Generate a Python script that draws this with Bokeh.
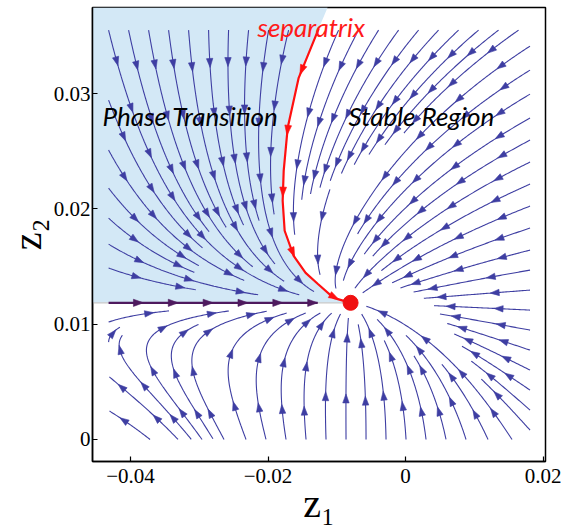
import math
import numpy as np
from bokeh.plotting import figure
from bokeh.models import Range1d, FixedTicker, Label
from bokeh.embed import file_html
from bokeh.resources import INLINE

# ---------------- values ----------------
x_ticks = [-0.04, -0.02, 0.0, 0.02]
x_tick_labels = ["\u22120.04", "\u22120.02", "0", "0.02"]
y_ticks = [0.0, 0.01, 0.02, 0.03]
y_tick_labels = ["0", "0.01", "0.02", "0.03"]
x_title = "z\u2081"
y_title = "z\u2082"

x_view = [-0.04554, 0.02035]
y_view = [-0.00191, 0.03746]

stream_z1 = [-0.0432, 0.0181]   # extent of the stream field
stream_z2 = [0.0, 0.0355]

fixed_z1 = -0.0080              # the red fixed point
fixed_z2 = 0.01185

separatrix_z1 = [-0.01265, -0.01555, -0.01715, -0.01773, -0.01788, -0.01759,
                 -0.01628, -0.01454, -0.01279, -0.01047, -0.00800]
separatrix_z2 = [0.03561, 0.03136, 0.02703, 0.02330, 0.02070, 0.01810,
                 0.01593, 0.01445, 0.01350, 0.01228, 0.01185]
region_top_z1 = -0.01134        # where the shaded region meets the top of the frame

attractor_z1 = [-0.0432, -0.01279]   # purple flow line along z2 = fixed_z2
attractor_arrows = 6

# flow-field shape constants (in units of ZS1, ZS2 around the fixed point)
ZS1, ZS2 = 0.01453, 0.00867
A_LIN, D_QUAD = 0.689, 0.1085
C0, C1, C2 = 0.5, 0.2, 0.02
H_K, H_P0 = 0.39, 0.1

# ---------------- figure ----------------
FW, FH = 453, 454
p = figure(width=572, height=530, frame_width=FW, frame_height=FH,
           x_range=Range1d(*x_view), y_range=Range1d(*y_view),
           output_backend="svg", toolbar_location=None,
           min_border_left=92, min_border_right=27, min_border_top=7, min_border_bottom=69)
p.grid.visible = False
p.background_fill_color = "white"
p.border_fill_color = "white"
p.outline_line_color = "black"
p.outline_line_width = 1.5

for ax, ticks, labels in ((p.xaxis, x_ticks, x_tick_labels), (p.yaxis, y_ticks, y_tick_labels)):
    ax.ticker = FixedTicker(ticks=ticks)
    ax.major_label_overrides = {t: l for t, l in zip(ticks, labels)}
    ax.major_tick_in = 5
    ax.major_tick_out = 0
    ax.minor_tick_line_color = None
    ax.axis_line_width = 1.5
    ax.major_tick_line_width = 1.2
    ax.major_label_text_font = "Liberation Serif"
    ax.major_label_text_font_size = "21px"
    ax.major_label_text_color = "black"
    ax.axis_label_text_font = "Liberation Serif"
    ax.axis_label_text_font_size = "40px"
    ax.axis_label_text_font_style = "normal"
    ax.axis_label_text_color = "black"
p.xaxis.axis_label = x_title
p.yaxis.axis_label = y_title
p.xaxis.major_label_standoff = 7
p.yaxis.major_label_standoff = 2
p.xaxis.axis_label_standoff = -5
p.yaxis.axis_label_standoff = 1

sx = FW / (x_view[1] - x_view[0])
sy = FH / (y_view[1] - y_view[0])


def to_px(z1, z2):
    return (z1 - x_view[0]) * sx, (z2 - y_view[0]) * sy


def to_data(px, py):
    return x_view[0] + px / sx, y_view[0] + py / sy


QB = fixed_z2 / ZS2


def velocity(px, py):
    z1, z2 = to_data(px, py)
    P = (z1 - fixed_z1) / ZS1
    Q = (z2 - fixed_z2) / ZS2
    lp = -A_LIN * P - D_QUAD * P * P
    if Q >= 0:
        dP = lp - Q * (C0 + C1 * P + C2 * P * P)
    else:
        w = min(1.0, -Q / QB)
        dP = lp + w * (-H_K * (P - H_P0) ** 2 - lp)
    dQ = -Q
    vx = dP * ZS1 * sx
    vy = dQ * ZS2 * sy
    n = math.hypot(vx, vy)
    if n < 1e-12:
        return None
    return vx / n, vy / n


# ---------------- evenly spaced streamlines ----------------
DSEP, DTEST, STEP, R_FIX = 19.0, 8.0, 1.5, 15.0
bx0, by0 = to_px(stream_z1[0], stream_z2[0])
bx1, by1 = to_px(stream_z1[1], stream_z2[1])
fx, fy = to_px(fixed_z1, fixed_z2)
CELL = DTEST
grid = {}


def add_pt(x, y):
    grid.setdefault((int(x // CELL), int(y // CELL)), []).append((x, y))


def near(x, y, r):
    cx, cy = int(x // CELL), int(y // CELL)
    k = int(math.ceil(r / CELL))
    r2 = r * r
    for i in range(cx - k, cx + k + 1):
        for j in range(cy - k, cy + k + 1):
            for (qx, qy) in grid.get((i, j), ()):
                if (qx - x) ** 2 + (qy - y) ** 2 < r2:
                    return True
    return False


def inside(x, y):
    return bx0 - 0.01 <= x <= bx1 + 0.01 and by0 - 0.01 <= y <= by1 + 0.01


def densify(xs, ys, step=1.0):
    out = []
    for i in range(len(xs) - 1):
        d = math.hypot(xs[i + 1] - xs[i], ys[i + 1] - ys[i])
        n = max(1, int(d / step))
        for k in range(n):
            t = k / n
            out.append((xs[i] + t * (xs[i + 1] - xs[i]), ys[i] + t * (ys[i + 1] - ys[i])))
    out.append((xs[-1], ys[-1]))
    return out


def trace(x, y, sign):
    pts = []
    prev = None
    for _ in range(2000):
        v = velocity(x, y)
        if v is None:
            break
        mx, my = x + 0.5 * STEP * sign * v[0], y + 0.5 * STEP * sign * v[1]
        v2 = velocity(mx, my)
        if v2 is None:
            break
        if prev is not None and v2[0] * prev[0] + v2[1] * prev[1] < 0.3:
            break
        nx, ny = x + STEP * sign * v2[0], y + STEP * sign * v2[1]
        if not inside(nx, ny):
            break
        if math.hypot(nx - fx, ny - fy) < R_FIX:
            break
        if near(nx, ny, DTEST):
            break
        pts.append((nx, ny))
        prev = v2
        x, y = nx, ny
    return pts


# preload the drawn curves so that streamlines keep clear of them
sep_px = [to_px(a, b) for a, b in zip(separatrix_z1, separatrix_z2)]
sep_dense = densify([q[0] for q in sep_px], [q[1] for q in sep_px])
att0 = to_px(attractor_z1[0], fixed_z2)
att_dense = densify([att0[0], fx], [att0[1], fy])
for (x, y) in sep_dense + att_dense:
    add_pt(x, y)

seeds = []
e = 2.0
for x in np.arange(bx0, bx1 + 0.1, e):
    seeds.append((x, by1, 1))
for y in np.arange(by1, by0 - 0.1, -e):
    seeds.append((bx1, y, 1))
for x in np.arange(bx1, bx0 - 0.1, -e):
    seeds.append((x, by0, 1))
for y in np.arange(by1, by0 - 0.1, -e):
    seeds.append((bx0, y, 1))
for y in np.arange(by0 + 4, by1, 5.0):
    for x in np.arange(bx0 + 4, bx1, 5.0):
        seeds.append((x, y, 0))

lines = []
for (x, y, kind) in seeds:
    if near(x, y, DSEP) or math.hypot(x - fx, y - fy) < R_FIX + 4:
        continue
    fwd = trace(x, y, 1.0)
    bwd = trace(x, y, -1.0) if kind == 0 else []
    pts = bwd[::-1] + [(x, y)] + fwd
    if len(pts) < 2:
        continue
    length = sum(math.hypot(pts[i + 1][0] - pts[i][0], pts[i + 1][1] - pts[i][1]) for i in range(len(pts) - 1))
    if length < 12:
        continue
    for q in pts:
        add_pt(*q)
    lines.append(pts)


def arrow_polys(pts, spacing, frac, alen=9.0, ahw=3.2, n_fixed=None):
    xs = np.array([q[0] for q in pts])
    ys = np.array([q[1] for q in pts])
    cum = np.concatenate([[0.0], np.cumsum(np.hypot(np.diff(xs), np.diff(ys)))])
    total = cum[-1]
    n = n_fixed if n_fixed else max(1, int(round(total / spacing)))
    stepl = total / n
    out = []
    for k in range(n):
        s = min(total, max(alen, (k + frac) * stepl))
        tx, ty = np.interp(s, cum, xs), np.interp(s, cum, ys)
        bx, by = np.interp(s - alen, cum, xs), np.interp(s - alen, cum, ys)
        dx, dy = tx - bx, ty - by
        d = math.hypot(dx, dy) or 1.0
        dx, dy = dx / d, dy / d
        cx, cy = tx - alen * dx, ty - alen * dy
        poly = [(tx, ty), (cx - ahw * dy, cy + ahw * dx), (cx + ahw * dy, cy - ahw * dx)]
        out.append(([to_data(*q)[0] for q in poly], [to_data(*q)[1] for q in poly]))
    return out


# ---------------- shaded region ----------------
reg_x = [x_view[0], x_view[0], region_top_z1] + separatrix_z1 + [fixed_z1]
reg_y = [fixed_z2, y_view[1], y_view[1]] + separatrix_z2 + [fixed_z2]
p.patch(reg_x, reg_y, fill_color="#D3E8F6", line_color=None)
p.line([x_view[0], fixed_z1], [fixed_z2, fixed_z2], line_color="#C8C8C8", line_width=1.2)

# ---------------- streamlines ----------------
STREAM = "#3E3EA2"
ml_x, ml_y, ah_x, ah_y = [], [], [], []
for pts in lines:
    d = [to_data(*q) for q in pts]
    ml_x.append([q[0] for q in d])
    ml_y.append([q[1] for q in d])
    for ax_, ay_ in arrow_polys(pts, 52.0, 0.75):
        ah_x.append(ax_)
        ah_y.append(ay_)
p.multi_line(ml_x, ml_y, line_color=STREAM, line_width=1.1)
p.patches(ah_x, ah_y, fill_color=STREAM, line_color=STREAM, line_width=0.6)

# ---------------- purple attractor line ----------------
PURPLE = "#4E1A5E"
att_end = to_px(attractor_z1[1], fixed_z2)
att_pts = densify([att0[0], att_end[0]], [att0[1], att_end[1]])
p.line(attractor_z1, [fixed_z2, fixed_z2], line_color=PURPLE, line_width=2.2)
pa = arrow_polys(att_pts, 35.0, 1.0, alen=10.0, ahw=3.6, n_fixed=attractor_arrows)
p.patches([a[0] for a in pa], [a[1] for a in pa], fill_color=PURPLE, line_color=PURPLE, line_width=0.6)

# ---------------- separatrix ----------------
p.line(separatrix_z1, separatrix_z2, line_color="#FF1010", line_width=2.2)
ra = arrow_polys(sep_dense, 60.0, 0.8, alen=10.0, ahw=3.4)
p.patches([a[0] for a in ra], [a[1] for a in ra], fill_color="#FF1010", line_color="#FF1010", line_width=0.6)
p.scatter([fixed_z1], [fixed_z2], size=15, fill_color="#F01010", line_color="#F01010")


# ---------------- texts ----------------
def lab(text, dx_px, dy_px, size, color="black"):
    p.add_layout(Label(x=x_view[0], y=y_view[0], x_offset=dx_px, y_offset=dy_px, text=text,
                       text_font="Lato", text_font_size=size, text_font_style="italic",
                       text_color=color, text_align="left", text_baseline="alphabetic"))


lab("Phase Transition", 10, 346, "26px")
lab("Stable Region", 256, 346, "26px")
lab("separatrix", 165, 435, "26px", color="#FF1A1A")

open("out.html", "w").write(file_html(p, INLINE))
